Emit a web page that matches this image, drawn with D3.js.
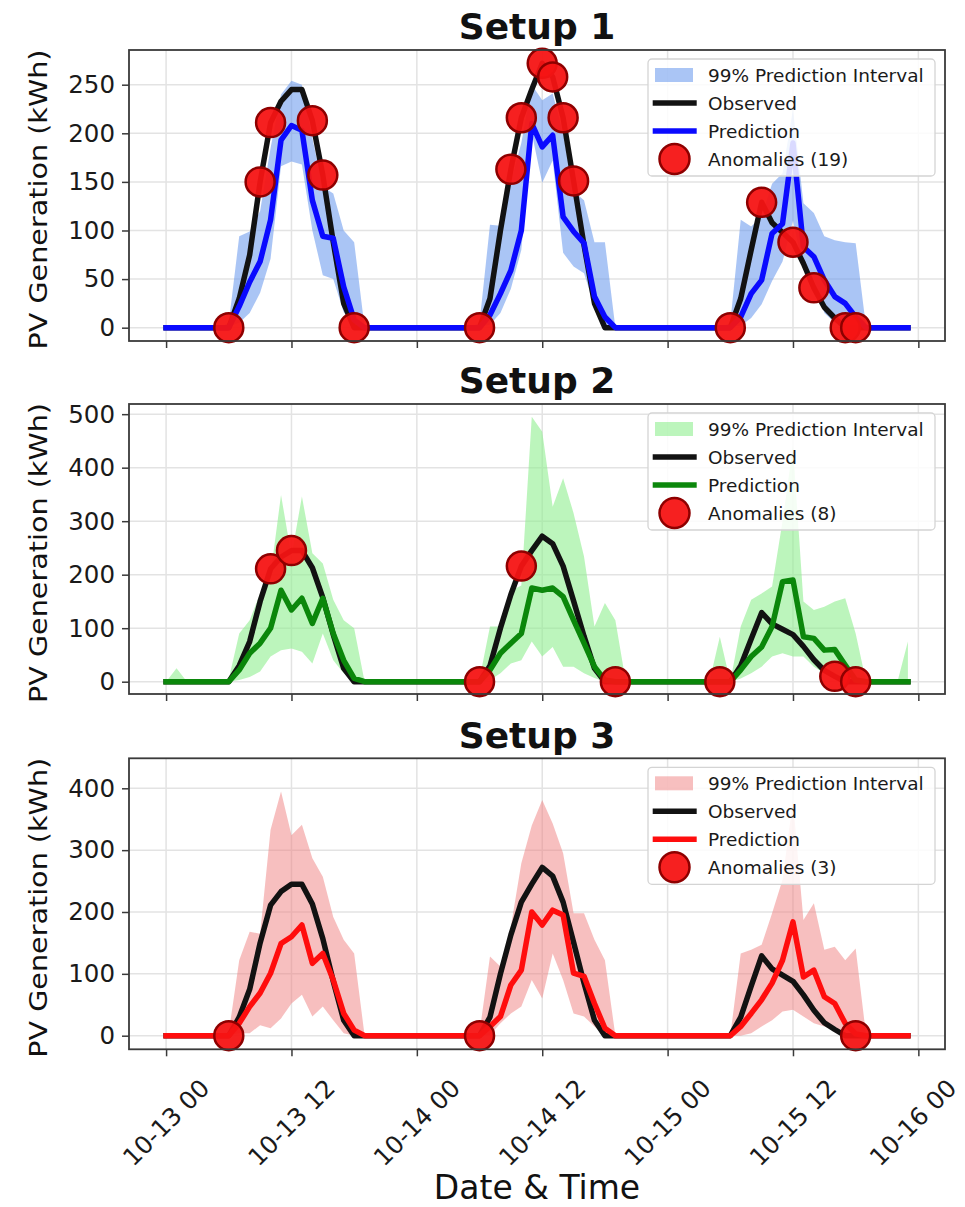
<!DOCTYPE html>
<html>
<head>
<meta charset="utf-8">
<script src="https://cdn.jsdelivr.net/npm/d3@7"></script>
<style>
  body { margin: 0; background: #fff; }
  text { font-family: "DejaVu Sans", "Liberation Sans", sans-serif; }
</style>
</head>
<body>
<svg id="chart" width="965" height="1207"></svg>
<script>
// Hourly PV generation, 13–15 October (one value per hour, 72 hours).
const startTime = Date.UTC(2024, 9, 13, 0);
const hourCount = 72;

const observed = [
  0,0,0,0,0,0, 0,30,75,150,211,233, 245,245,213,157,88,25, 0,0,0,0,0,0,
  0,0,0,0,0,0, 0,30,100,163,216,245, 272,258,216,151,85,25, 0,0,0,0,0,0,
  0,0,0,0,0,0, 0,30,80,129,108,98, 88,66,41,21,10,0, 0,0,0,0,0,0
];

// Setup 1
const setup1Pred = [
  0,0,0,0,0,0, 0,22,47,68,111,193, 208,203,131,94,92,42, 8,0,0,0,0,0,
  0,0,0,0,0,0, 0,13,35,59,100,210, 186,198,114,99,87,32, 11,0,0,0,0,0,
  0,0,0,0,0,0, 0,11,35,49,97,107, 190,83,73,49,32,25, 11,0,0,0,0,0
];
const setup1Upper = [
  0,0,0,0,0,0, 5,94,99,120,185,240, 254,250,195,145,138,100, 88,0,0,0,0,0,
  0,0,0,0,0,0, 5,106,105,150,190,250, 234,241,200,140,131,88, 88,0,0,0,0,0,
  0,0,0,0,0,0, 5,111,104,115,148,159, 225,128,118,94,90,88, 87,0,0,0,0,0
];
const setup1Lower = [
  0,0,0,0,0,0, 1,5,15,36,71,166, 171,168,100,54,50,16, 3,0,0,0,0,0,
  0,0,0,0,0,0, 1,3,15,40,80,200, 149,172,77,63,56,22, 0,0,0,0,0,0,
  0,0,0,0,0,0, 1,2,10,24,48,68, 110,60,50,15,5,8, 3,0,0,0,0,0
];

// Setup 2
const setup2Pred = [
  0,0,0,0,0,0, 0,22,53,72,100,171, 134,156,109,156,90,40, 6,0,0,0,0,0,
  0,0,0,0,0,0, 0,22,53,72,90,175, 171,175,159,115,72,28, 3,0,0,0,0,0,
  0,0,0,0,0,0, 0,22,47,65,103,187, 190,84,81,59,60,31, 3,0,0,0,0,0
];
const setup2Upper = [
  0,25,0,0,0,0, 5,90,115,165,200,349, 235,346,240,221,153,115, 100,0,0,0,0,0,
  0,0,0,0,0,0, 5,103,103,170,180,495, 467,327,380,315,234,103, 147,115,0,0,0,0,
  0,0,0,0,0,84, 0,103,153,165,178,300, 440,150,134,140,150,156, 90,0,0,0,0,75
];
const setup2Lower = [
  0,0,0,0,0,0, 0,3,9,19,47,59, 62,56,34,90,40,16, 0,0,0,0,0,0,
  0,0,0,0,0,0, 1,3,16,34,40,75, 47,65,28,28,16,7, 0,3,0,0,0,0,
  0,0,0,0,0,3, 0,6,16,28,47,53, 47,47,28,16,14,0, 2,0,0,0,0,0
];

// Setup 3
const setup3Pred = [
  0,0,0,0,0,0, 0,20,47,69,101,149, 160,179,117,133,90,36, 9,0,0,0,0,0,
  0,0,0,0,0,0, 0,15,31,82,106,200, 179,203,195,101,96,52, 12,0,0,0,0,0,
  0,0,0,0,0,0, 0,15,36,58,85,122, 184,95,106,63,52,20, 3,0,0,0,0,0
];
const setup3Upper = [
  0,0,0,0,0,0, 5,122,168,165,333,395, 324,341,287,257,192,155, 133,0,0,0,0,0,
  0,0,0,0,0,0, 5,128,112,176,279,340, 381,343,295,198,198,155, 122,0,0,0,0,0,
  0,0,0,0,0,0, 0,133,139,147,198,252, 380,187,214,139,144,122, 141,0,0,0,0,0
];
const setup3Lower = [
  0,0,0,0,0,0, 1,4,4,17,12,28, 52,66,31,47,25,4, 0,0,0,0,0,0,
  0,0,0,0,0,0, 1,1,20,36,47,90, 60,133,90,36,31,15, 0,0,0,0,0,0,
  0,0,0,0,0,0, 0,0,4,15,25,39, 42,31,20,15,9,0, 1,0,0,0,0,0
];

const titles = ["Setup 1", "Setup 2", "Setup 3"];
const yTickValues = [
  [0, 50, 100, 150, 200, 250],
  [0, 100, 200, 300, 400, 500],
  [0, 100, 200, 300, 400]
];
const yDomains = [[-13.7, 285.7], [-23, 519], [-22, 448.5]];
const legendLabels = ["99% Prediction Interval", "Observed", "Prediction"];
const xLabel = "Date & Time";
const yLabel = "PV Generation (kWh)";

// ---- layout & styling ----
const svgWidth = 965;
const plotLeft = 129, plotRight = 945;
const panelBoxes = [[50, 341], [404, 694], [758.3, 1049.3]];
const styles = [
  { line: "#0a0aff", band: "#6495ed", bandOpacity: 0.55 },
  { line: "#0b870b", band: "#90ee90", bandOpacity: 0.6 },
  { line: "#ff0d0d", band: "#f08080", bandOpacity: 0.5 }
];
const predictions = [setup1Pred, setup2Pred, setup3Pred];
const uppers = [setup1Upper, setup2Upper, setup3Upper];
const lowers = [setup1Lower, setup2Lower, setup3Lower];
const lineWidth = 5.5;

const timeAt = h => new Date(startTime + h * 3600e3);
const hours = d3.range(hourCount);

const x = d3.scaleUtc()
  .domain([timeAt(-3.55), timeAt(74.55)])
  .range([plotLeft, plotRight]);
const xTicks = d3.utcHour.every(12).range(timeAt(0), timeAt(72.01));
const fmt = d3.utcFormat("%m-%d %H");

const svg = d3.select("#chart");

panelBoxes.forEach(([top, bottom], p) => {
  const st = styles[p];
  const pred = predictions[p], up = uppers[p], lo = lowers[p];
  const y = d3.scaleLinear().domain(yDomains[p]).range([bottom, top]);
  const g = svg.append("g");

  // grid
  g.append("g").selectAll("line").data(xTicks).join("line")
    .attr("x1", d => x(d)).attr("x2", d => x(d))
    .attr("y1", top).attr("y2", bottom)
    .attr("stroke", "#e3e3e3").attr("stroke-width", 1.5);
  g.append("g").selectAll("line").data(yTickValues[p]).join("line")
    .attr("x1", plotLeft).attr("x2", plotRight)
    .attr("y1", d => y(d)).attr("y2", d => y(d))
    .attr("stroke", "#e3e3e3").attr("stroke-width", 1.5);

  // prediction interval
  const area = d3.area()
    .x(h => x(timeAt(h)))
    .y0(h => y(lo[h]))
    .y1(h => y(up[h]));
  g.append("path").datum(hours)
    .attr("d", area)
    .attr("fill", st.band).attr("fill-opacity", st.bandOpacity);

  const lineOf = arr => d3.line().x(h => x(timeAt(h))).y(h => y(arr[h]));

  g.append("path").datum(hours)
    .attr("d", lineOf(observed))
    .attr("fill", "none").attr("stroke", "#121212")
    .attr("stroke-width", lineWidth).attr("stroke-linejoin", "round").attr("stroke-linecap", "square");

  g.append("path").datum(hours)
    .attr("d", lineOf(pred))
    .attr("fill", "none").attr("stroke", st.line)
    .attr("stroke-width", lineWidth).attr("stroke-linejoin", "round").attr("stroke-linecap", "square");

  // anomalies: observed value outside the interval
  const anomalies = hours.filter(h => observed[h] < lo[h] || observed[h] > up[h]);
  g.append("g").selectAll("circle").data(anomalies).join("circle")
    .attr("cx", h => x(timeAt(h)))
    .attr("cy", h => y(observed[h]))
    .attr("r", 14.5)
    .attr("fill", "#f51414").attr("fill-opacity", 0.95)
    .attr("stroke", "#8e0000").attr("stroke-width", 2.5);

  // frame
  g.append("rect")
    .attr("x", plotLeft).attr("y", top)
    .attr("width", plotRight - plotLeft).attr("height", bottom - top)
    .attr("fill", "none").attr("stroke", "#3a3a3a").attr("stroke-width", 1.8);

  // y axis
  const ya = g.append("g").attr("transform", `translate(${plotLeft},0)`)
    .call(d3.axisLeft(y).tickValues(yTickValues[p]).tickSize(7).tickPadding(7).tickSizeOuter(0));
  ya.select(".domain").remove();
  ya.selectAll(".tick line").attr("stroke", "#3a3a3a").attr("stroke-width", 1.5);
  ya.selectAll(".tick text")
    .attr("font-size", 24.5).attr("font-family", "DejaVu Sans").attr("fill", "#1a1a1a");

  // x axis ticks
  const xa = g.append("g").attr("transform", `translate(0,${bottom})`)
    .call(d3.axisBottom(x).tickValues(xTicks).tickSize(7).tickFormat("").tickSizeOuter(0));
  xa.select(".domain").remove();
  xa.selectAll(".tick line").attr("stroke", "#3a3a3a").attr("stroke-width", 1.5);

  // title
  svg.append("text")
    .attr("x", (plotLeft + plotRight) / 2).attr("y", top - 10.7)
    .attr("text-anchor", "middle")
    .attr("font-size", 36).attr("font-weight", "bold").attr("fill", "#111")
    .text(titles[p]);

  // y label
  svg.append("text")
    .attr("transform", `translate(47,${(top + bottom) / 2 + 4}) rotate(-90)`)
    .attr("text-anchor", "middle")
    .attr("font-size", 24).attr("fill", "#111")
    .attr("textLength", 300).attr("lengthAdjust", "spacingAndGlyphs")
    .text(yLabel);

  // legend
  const lg = svg.append("g").attr("transform", `translate(648,${top + 9})`);
  lg.append("rect").attr("width", 287).attr("height", 117).attr("rx", 4)
    .attr("fill", "#fff").attr("fill-opacity", 0.85)
    .attr("stroke", "#d4d4d4").attr("stroke-width", 1.3);
  const rowY = i => 16 + i * 28;
  lg.append("rect").attr("x", 7).attr("y", rowY(0) - 7).attr("width", 38).attr("height", 14)
    .attr("fill", st.band).attr("fill-opacity", st.bandOpacity);
  lg.append("line").attr("x1", 4.7).attr("x2", 48.7).attr("y1", rowY(1)).attr("y2", rowY(1))
    .attr("stroke", "#121212").attr("stroke-width", lineWidth);
  lg.append("line").attr("x1", 4.7).attr("x2", 48.7).attr("y1", rowY(2)).attr("y2", rowY(2))
    .attr("stroke", st.line).attr("stroke-width", lineWidth);
  lg.append("circle").attr("cx", 26.5).attr("cy", rowY(3)).attr("r", 15)
    .attr("fill", "#f51414").attr("fill-opacity", 0.95)
    .attr("stroke", "#8e0000").attr("stroke-width", 2.5);
  const labels = legendLabels.concat([`Anomalies (${anomalies.length})`]);
  lg.selectAll("text.lbl").data(labels).join("text")
    .attr("class", "lbl")
    .attr("x", 60).attr("y", (d, i) => rowY(i))
    .attr("dominant-baseline", "central")
    .attr("font-size", 18.5).attr("fill", "#1a1a1a")
    .text(d => d);

  // rotated date labels under the last panel
  if (p === panelBoxes.length - 1) {
    const fs = 24.5;
    const lbl = svg.append("g").selectAll("text").data(xTicks).join("text")
      .attr("font-size", fs).attr("fill", "#1a1a1a")
      .attr("text-anchor", "middle").attr("dominant-baseline", "central")
      .text(d => fmt(d));
    lbl.each(function (d) {
      const w = this.getComputedTextLength();
      const boxH = (w + fs * 1.16) / Math.SQRT2;
      const cy = bottom + 24.3 + boxH / 2;
      // keep the rotated label inside the drawing
      const cx = Math.min(x(d), svgWidth - 3 - boxH / 2);
      d3.select(this).attr("transform", `translate(${cx},${cy}) rotate(-45)`);
    });
    svg.append("text")
      .attr("x", (plotLeft + plotRight) / 2).attr("y", 1199)
      .attr("text-anchor", "middle")
      .attr("font-size", 33).attr("fill", "#111")
      .text(xLabel);
  }
});
</script>
</body>
</html>
